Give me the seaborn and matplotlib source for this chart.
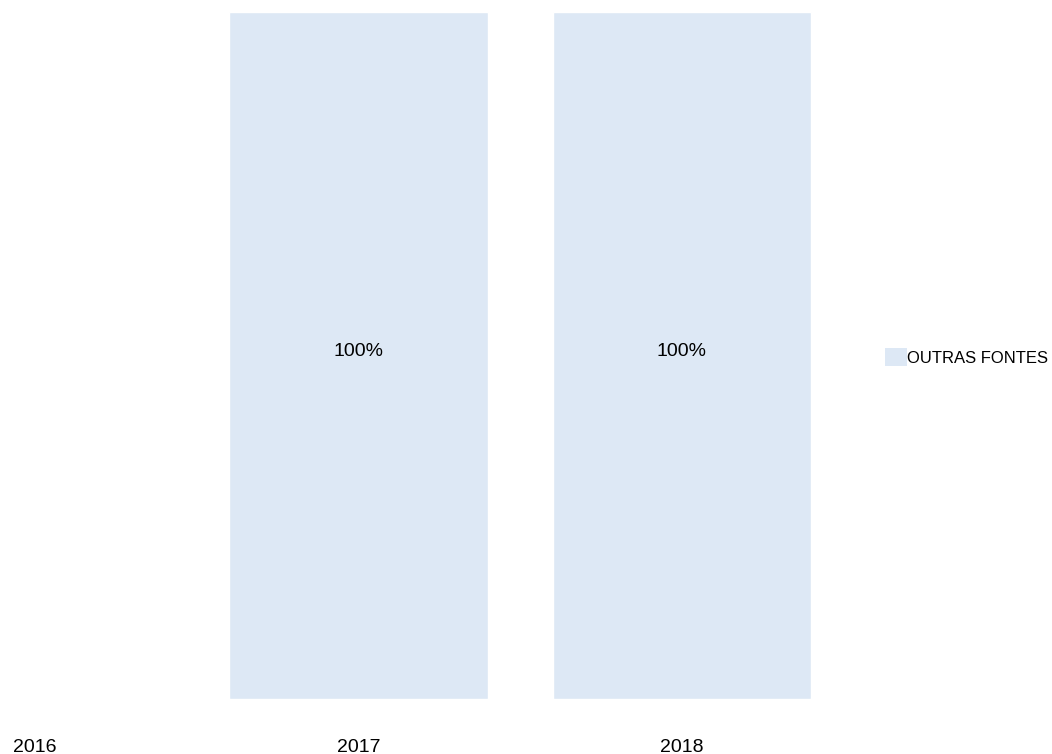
import matplotlib
matplotlib.use("Agg")
import matplotlib.pyplot as plt
import matplotlib.transforms as mtransforms
import seaborn as sns
import pandas as pd
import numpy as np
from matplotlib.patches import Patch

years = ["2016", "2017", "2018"]
outras_fontes = [0, 100, 100]
series_name = "OUTRAS FONTES"
bar_color = "#DDE8F5"

sns.set_theme(style="white")
plt.rcParams['font.family'] = ['Liberation Sans', 'DejaVu Sans']
plt.rcParams['text.color'] = 'black'

df = pd.DataFrame({"ano": years, "valor": outras_fontes, "fonte": series_name})

fig = plt.figure(figsize=(10.52, 7.54), dpi=100)
W, H = 1052, 754
ax = fig.add_axes([0, (H - 699) / H, 843.7 / W, 687 / H])

sns.barplot(data=df, x="ano", y="valor", hue="fonte", palette=[bar_color],
            width=0.8, ax=ax, legend=False, saturation=1)

ax.set_xlim(-35 / 323.5, 2.5)
ax.set_ylim(0, 100)
for s in ax.spines.values():
    s.set_visible(False)
ax.set_yticks([])
ax.set_xlabel("")
ax.set_ylabel("")
ax.tick_params(axis="x", length=0, pad=28.5, labelsize=14, labelcolor="black")

offset = mtransforms.offset_copy(ax.transData, fig=fig, x=0, y=4, units="dots")
for i, v in enumerate(outras_fontes):
    if v > 0:
        ax.text(i, v / 2, f"{v}%", ha="center", va="center", fontsize=14,
                color="black", transform=offset)

handle = Patch(facecolor=bar_color, edgecolor="none")
leg = fig.legend([handle], [series_name], loc="center left",
                 bbox_to_anchor=(885 / W, 1 - 357 / H), frameon=False, fontsize=12,
                 handlelength=1.32, handleheight=1.2, handletextpad=0.0, borderpad=0,
                 borderaxespad=0, labelcolor="black")

fig.savefig("out.png", dpi=100)
